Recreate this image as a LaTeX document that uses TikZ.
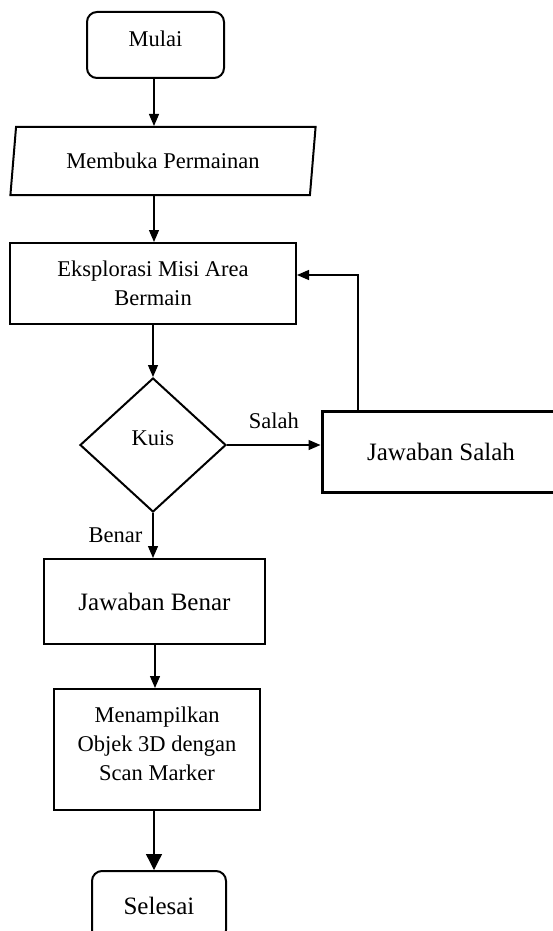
\documentclass[tikz,border=0pt]{standalone}
\usepackage{fontspec}
\setmainfont{Liberation Serif}
\usepackage{tikz}
\usetikzlibrary{shapes.geometric, arrows.meta}
\definecolor{loop}{RGB}{128, 128, 128}

\begin{document}
\begin{tikzpicture}[x=1pt, y=-1pt, line width=1.3pt,
  every node/.style={font=\fontsize{22.5}{29}\selectfont, align=center, inner sep=0pt},
  terminal/.style={draw, line width=2pt, rounded corners=10pt},
  inout/.style={draw, line width=2pt, trapezium, trapezium left angle=76.8, trapezium right angle=103.2, trapezium stretches=true},
  process/.style={draw, line width=2pt},
  decision/.style={draw, line width=2pt, diamond},
  flow/.style={-{Triangle[width=10pt, length=12pt]}},
  bigflow/.style={-{Triangle[width=16pt, length=16pt]}}]
  \useasboundingbox (0, 0) rectangle (553, 931);

  \node[terminal, minimum width=137, minimum height=66, text depth=12pt] (mulai) at (155.5, 45) {Mulai};
  \node[inout, minimum width=306, minimum height=68] (buka) at (163, 161) {Membuka Permainan};
  \node[process, minimum width=286, minimum height=81] (eksplor) at (153, 283.5) {Eksplorasi Misi Area\\Bermain};
  \node[decision, minimum width=146, minimum height=134, text depth=14pt] (kuis) at (153, 445) {Kuis};
  \node[process, line width=3pt, minimum width=238, minimum height=81, font=\fontsize{25}{30}\selectfont] (salah) at (441, 451.5) {Jawaban Salah};
  \node[process, minimum width=221, minimum height=85, font=\fontsize{25}{30}\selectfont] (benar) at (154.5, 601.5) {Jawaban Benar};
  \node[process, minimum width=206, minimum height=121, text depth=12pt] (tampil) at (157, 749.5) {Menampilkan\\Objek 3D dengan\\Scan Marker};
  \node[terminal, minimum width=134, minimum height=69, font=\fontsize{25}{30}\selectfont] (selesai) at (159, 905.5) {Selesai};
  \coordinate (balik) at (358, 275);

  \draw[flow] (mulai.south -| 154, 0) -- (buka.north -| 154, 0);
  \draw[flow] (buka.south -| 154, 0) -- (eksplor.north -| 154, 0);
  \draw[flow] (eksplor.south -| kuis.north) -- (kuis.north);
  \draw[flow] (kuis.east) -- node[above=16pt] {Salah} (salah.west |- kuis.east);
  \draw[flow] (kuis.south) -- node[left=10pt] {Benar} (benar.north -| kuis.south);
  \draw[flow] (benar.south -| 155, 0) -- (tampil.north -| 155, 0);
  \draw[bigflow] (tampil.south -| 154, 0) -- (selesai.north -| 154, 0);
  \draw[loop, -{Triangle[width=10pt, length=12pt, color=black]}] (salah.north -| balik) -- (balik) -- (eksplor.east |- balik);

\end{tikzpicture}
\end{document}
